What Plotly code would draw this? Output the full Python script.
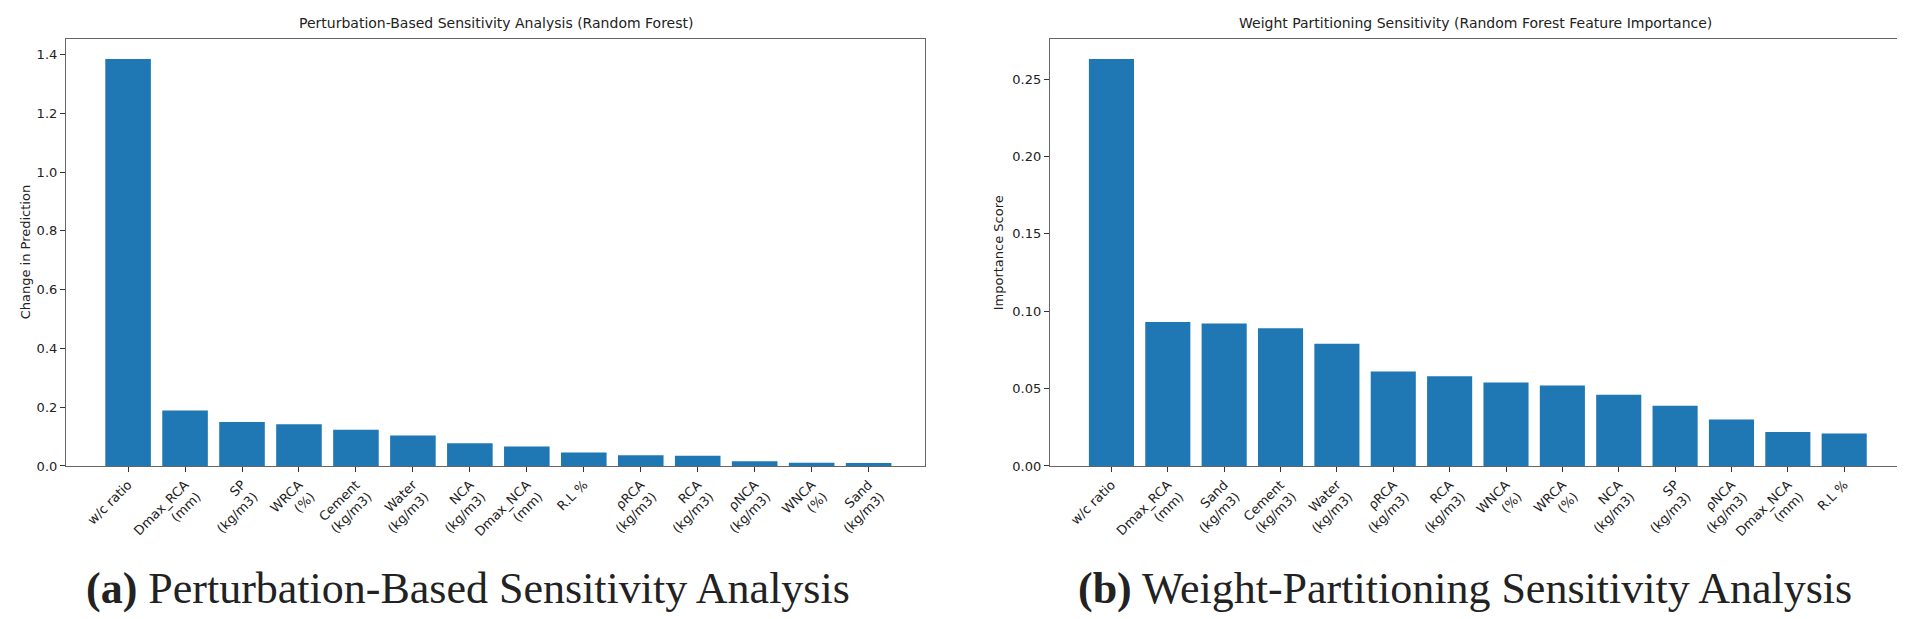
import plotly.graph_objects as go

# ---- data ----
left_labels = ["w/c ratio", "Dmax_RCA<br>(mm)", "SP<br>(kg/m3)", "WRCA<br>(%)", "Cement<br>(kg/m3)",
               "Water<br>(kg/m3)", "NCA<br>(kg/m3)", "Dmax_NCA<br>(mm)", "R.L %", "ρRCA<br>(kg/m3)",
               "RCA<br>(kg/m3)", "ρNCA<br>(kg/m3)", "WNCA<br>(%)", "Sand<br>(kg/m3)"]
left_values = [1.385, 0.189, 0.150, 0.142, 0.123, 0.104, 0.077, 0.066, 0.046, 0.037, 0.035, 0.016, 0.011, 0.010]

right_labels = ["w/c ratio", "Dmax_RCA<br>(mm)", "Sand<br>(kg/m3)", "Cement<br>(kg/m3)", "Water<br>(kg/m3)",
                "ρRCA<br>(kg/m3)", "RCA<br>(kg/m3)", "WNCA<br>(%)", "WRCA<br>(%)", "NCA<br>(kg/m3)",
                "SP<br>(kg/m3)", "ρNCA<br>(kg/m3)", "Dmax_NCA<br>(mm)", "R.L %"]
right_values = [0.263, 0.093, 0.092, 0.089, 0.079, 0.061, 0.058, 0.054, 0.052, 0.046, 0.039, 0.030, 0.022, 0.021]

left_title = "Perturbation-Based Sensitivity Analysis (Random Forest)"
right_title = "Weight Partitioning Sensitivity (Random Forest Feature Importance)"
left_ylabel = "Change in Prediction"
right_ylabel = "Importance Score"
left_caption = "<b>(a)</b> Perturbation-Based Sensitivity Analysis"
right_caption = "<b>(b)</b> Weight-Partitioning Sensitivity Analysis"

W, H = 1905, 619
BAR = "#1f77b4"
LINE = "#666666"
FONT = "DejaVu Sans"

fig = go.Figure()
fig.add_trace(go.Bar(x=list(range(len(left_labels))), y=left_values, marker=dict(color=BAR, line=dict(width=0)),
                     width=0.8, xaxis="x", yaxis="y", showlegend=False))
fig.add_trace(go.Bar(x=list(range(len(right_labels))), y=right_values, marker=dict(color=BAR, line=dict(width=0)),
                     width=0.8, xaxis="x2", yaxis="y2", showlegend=False))

ydom = [1 - 464 / H, 1 - 31 / H]
xdom1 = [58 / W, 917 / W]
xdom2 = [1042 / W, 1892 / W]

common_x = dict(showline=True, linecolor=LINE, linewidth=1.2, mirror=True, ticks="outside", ticklen=5,
                tickcolor="#333", tickangle=-45, range=[-1.09, 13.99], showgrid=False, zeroline=False,
                tickfont=dict(family=FONT, size=13, color="#222"))
common_y = dict(showline=True, linecolor=LINE, linewidth=1.2, mirror=True, ticks="outside", ticklen=5,
                tickcolor="#333", showgrid=False, zeroline=False,
                tickfont=dict(family=FONT, size=13, color="#222"))

fig.update_layout(
    width=W, height=H, margin=dict(l=0, r=0, t=0, b=0),
    plot_bgcolor="white", paper_bgcolor="white", bargap=0.2,
    xaxis=dict(domain=xdom1, anchor="y", tickmode="array", tickvals=list(range(len(left_labels))),
               ticktext=left_labels, **common_x),
    yaxis=dict(domain=ydom, anchor="x", range=[0, max(left_values) * 1.05], dtick=0.2, tickformat=".1f",
               **common_y),
    xaxis2=dict(domain=xdom2, anchor="y2", tickmode="array", tickvals=list(range(len(right_labels))),
                ticktext=right_labels, **common_x),
    yaxis2=dict(domain=ydom, anchor="x2", range=[0, max(right_values) * 1.05], dtick=0.05, tickformat=".2f",
                **common_y),
)

ann = []
ann.append(dict(text=left_title, x=(xdom1[0] + xdom1[1]) / 2, y=1 - 15 / H, xref="paper", yref="paper",
                showarrow=False, font=dict(family=FONT, size=14, color="#222"), xanchor="center", yanchor="middle"))
ann.append(dict(text=right_title, x=(xdom2[0] + xdom2[1]) / 2, y=1 - 15 / H, xref="paper", yref="paper",
                showarrow=False, font=dict(family=FONT, size=14, color="#222"), xanchor="center", yanchor="middle"))
ann.append(dict(text=left_ylabel, x=17 / W, y=(ydom[0] + ydom[1]) / 2, xref="paper", yref="paper",
                showarrow=False, textangle=-90, font=dict(family=FONT, size=13, color="#222"),
                xanchor="center", yanchor="middle"))
ann.append(dict(text=right_ylabel, x=990 / W, y=(ydom[0] + ydom[1]) / 2, xref="paper", yref="paper",
                showarrow=False, textangle=-90, font=dict(family=FONT, size=13, color="#222"),
                xanchor="center", yanchor="middle"))
ann.append(dict(text=left_caption, x=460 / W, y=1 - 588 / H, xref="paper", yref="paper", showarrow=False,
                font=dict(family="Liberation Serif", size=44, color="#222"), xanchor="center", yanchor="middle"))
ann.append(dict(text=right_caption, x=1457 / W, y=1 - 588 / H, xref="paper", yref="paper", showarrow=False,
                font=dict(family="Liberation Serif", size=44, color="#222"), xanchor="center", yanchor="middle"))
fig.update_layout(annotations=ann)

fig.write_html("out.html")
